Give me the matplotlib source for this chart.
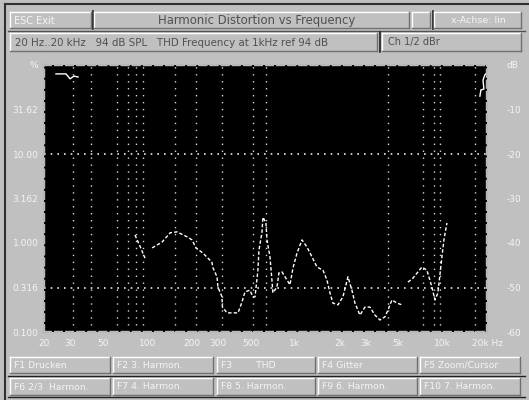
import numpy as np
import matplotlib
matplotlib.use('Agg')
import matplotlib.pyplot as plt
from matplotlib.patches import Rectangle

nan = np.nan

# ---------------- data ----------------
freq_main = [82.6, 89.3, 96.6, nan, 108, 126, 143, 159, 186, 201, 214, 239, 274, 279, 297, 301,
             321, 323, 347, 381, 412, 438, 459, 496, 520, 537, 562, 571, 598, 608, 637, 647,
             678, 699, 710, 756, 780, 818, 884, 926, 971, 1033, 1117, 1207, 1305, 1411, 1549,
             1648, 1728, 1810, 1956, 2116, 2288, 2434, 2551, 2758, 2982, 3224, 3485, 3767,
             4072, 4266, 4542, 4910, 5308, nan, 5828, 6300, 7248, 7836, 8472, 8878, 9304,
             9902, 10216, 10706]
db_main = [-38.2, -40.7, -43.4, nan, -41.1, -39.8, -37.7, -37.5, -38.6, -39.3, -41.1, -42.3, -44.3,
           -45.6, -47.6, -49.9, -52.1, -54.4, -55.7, -55.7, -55.7, -53.3, -51.0, -50.6, -52.1,
           -52.1, -46.1, -41.6, -37.7, -34.2, -35.5, -39.3, -43.1, -48.3, -51.2, -49.9, -46.7,
           -46.5, -48.3, -49.4, -45.6, -42.3, -39.3, -40.9, -43.1, -45.4, -46.1, -48.3, -51.2,
           -53.5, -53.9, -52.1, -47.6, -50.6, -53.5, -56.2, -54.4, -54.4, -56.2, -57.3, -56.6,
           -55.1, -52.8, -53.5, -53.9, nan, -48.8, -47.9, -45.4, -46.1, -49.9, -52.8, -51.2,
           -43.1, -39.3, -35.5]

freq_low = [24.1, 28.2, 30.0, 31.9, 34.0]
db_low = [-2.0, -2.0, -3.1, -2.5, -2.7]

freq_high = [17906, 18186, 19055, 18800, 19355, 19900]
db_high = [-7.0, -5.6, -5.4, -3.4, -2.2, -1.8]

grid_freqs = [31.5, 41.5, 62.5, 74, 84, 94, 154, 213, 320, 520, 637,
              4270, 7400, 8700, 9600, 16600]
ref_levels = [-20, -50]

y_ticks = [0, -10, -20, -30, -40, -50, -60]
left_labels = ["%", "31.62", "10.00", "3.162", "1.000", "0.316", "0.100"]
right_labels = ["dB", "-10", "-20", "-30", "-40", "-50", "-60"]

x_ticks = [20, 30, 50, 100, 200, 300, 500, 1000, 2000, 3000, 5000, 10000, 20000]
x_labels = ["20", "30", "50", "100", "200", "300", "500", "1k", "2k", "3k", "5k", "10k", "20k Hz"]

title_text = "Harmonic Distortion vs Frequency"
esc_text = "ESC Exit"
axis_text = "x-Achse: lin"
info_text = "20 Hz..20 kHz   94 dB SPL   THD Frequency at 1kHz ref 94 dB"
chan_text = "Ch 1/2 dBr"
buttons_row1 = ["F1 Drucken", "F2 3. Harmon.", "F3        THD", "F4 Gitter", "F5 Zoom/Cursor"]
buttons_row2 = ["F6 2/3  Harmon.", "F7 4. Harmon.", "F8 5. Harmon.", "F9 6. Harmon.", "F10 7. Harmon."]

# ---------------- figure ----------------
BG = '#c0c0c0'
W, H = 529, 400
fig = plt.figure(figsize=(W / 100, H / 100), dpi=100)
fig.patch.set_facecolor(BG)

bg = fig.add_axes([0, 0, 1, 1])
bg.set_xlim(0, W)
bg.set_ylim(H, 0)
bg.axis('off')

# outer dark border
bg.plot([5, 5], [4, 400], color='#303030', lw=1.5)
bg.plot([5, 529], [4, 4], color='#303030', lw=1.5)


def bevel(x0, y0, x1, y1, sunken=False):
    bg.add_patch(Rectangle((x0, y0), x1 - x0, y1 - y0, facecolor=BG, edgecolor='none'))
    light, dark = ('#ffffff', '#707070') if not sunken else ('#707070', '#ffffff')
    bg.plot([x0, x1], [y0, y0], color=light, lw=1.0)
    bg.plot([x0, x0], [y0, y1], color=light, lw=1.0)
    bg.plot([x0, x1], [y1, y1], color=dark, lw=1.0)
    bg.plot([x1, x1], [y0, y1], color=dark, lw=1.0)


# header row 1
bevel(10, 12, 91, 28)
bg.plot([92.5, 92.5], [11, 29], color='#202020', lw=1.2)
bevel(94, 12, 409, 28)
bevel(412, 12, 430, 28)
bg.plot([432.5, 432.5], [11, 29], color='#202020', lw=1.2)
bevel(434, 12, 521, 28)
bg.text(14, 20.5, esc_text, fontsize=7, color='#f4f4f4', va='center', ha='left')
bg.text(257, 20.5, title_text, fontsize=8.4, color='#505050', va='center', ha='center')
bg.text(478, 20.5, axis_text, fontsize=6.8, color='#f4f4f4', va='center', ha='center')

# header row 2
bg.plot([8, 525], [31, 31], color='#505050', lw=1.0)
bevel(10, 33, 377, 51)
bg.plot([379.5, 379.5], [32, 52], color='#202020', lw=1.2)
bevel(382, 33, 521, 51)
bg.text(15, 42.5, info_text, fontsize=7.4, color='#505050', va='center', ha='left')
bg.text(388, 42.5, chan_text, fontsize=7.0, color='#505050', va='center', ha='left')

# bottom buttons
bx = [(10, 110), (113, 213), (217, 315), (318, 417), (420, 520)]
for (x0, x1), t1, t2 in zip(bx, buttons_row1, buttons_row2):
    bevel(x0, 357, x1, 373)
    bevel(x0, 378, x1, 395)
    bg.text(x0 + 4, 365.5, t1, fontsize=6.7, color='#f4f4f4', va='center', ha='left')
    bg.text(x0 + 4, 386.5, t2, fontsize=6.7, color='#f4f4f4', va='center', ha='left')
bg.plot([8, 525], [376, 376], color='#202020', lw=1.0)
bg.plot([8, 525], [397, 397], color='#202020', lw=1.0)

# ---------------- plot ----------------
ax = fig.add_axes([44 / W, (H - 332) / H, 443 / W, 267 / H])
ax.set_facecolor('black')
ax.set_xscale('log')
ax.set_xlim(20, 20000)
ax.set_ylim(-60, 0)

for f in grid_freqs:
    ax.axvline(f, color='#d8d8d8', lw=1.0, ls=(0, (1, 4)))
for lv in ref_levels:
    ax.axhline(lv, color='#e8e8e8', lw=1.2, ls=(0, (1, 3)))

ax.plot(freq_main, db_main, color='white', lw=1.0, ls=(0, (2.5, 1.5)))
ax.plot(freq_low, db_low, color='white', lw=1.0)
ax.plot(freq_high, db_high, color='white', lw=1.0)

ax.set_xticks(x_ticks)
ax.set_xticklabels(x_labels)
ax.xaxis.set_minor_locator(matplotlib.ticker.NullLocator())
ax.set_yticks(y_ticks)
ax.set_yticklabels(left_labels)
ax.tick_params(axis='both', length=0, labelsize=6.5, colors='#f4f4f4')
ax.tick_params(axis='x', pad=5)
ax.tick_params(axis='y', pad=4)

ax2 = ax.twinx()
ax2.set_ylim(-60, 0)
ax2.set_yticks(y_ticks)
ax2.set_yticklabels(right_labels)
ax2.tick_params(axis='y', length=0, labelsize=6.5, colors='#f4f4f4', pad=14)

for a in (ax, ax2):
    for s in a.spines.values():
        s.set_color('#b8b8b8')
        s.set_linestyle((0, (3, 2)))
        s.set_linewidth(1.6)

fig.savefig('out.png', dpi=100, facecolor=BG)
